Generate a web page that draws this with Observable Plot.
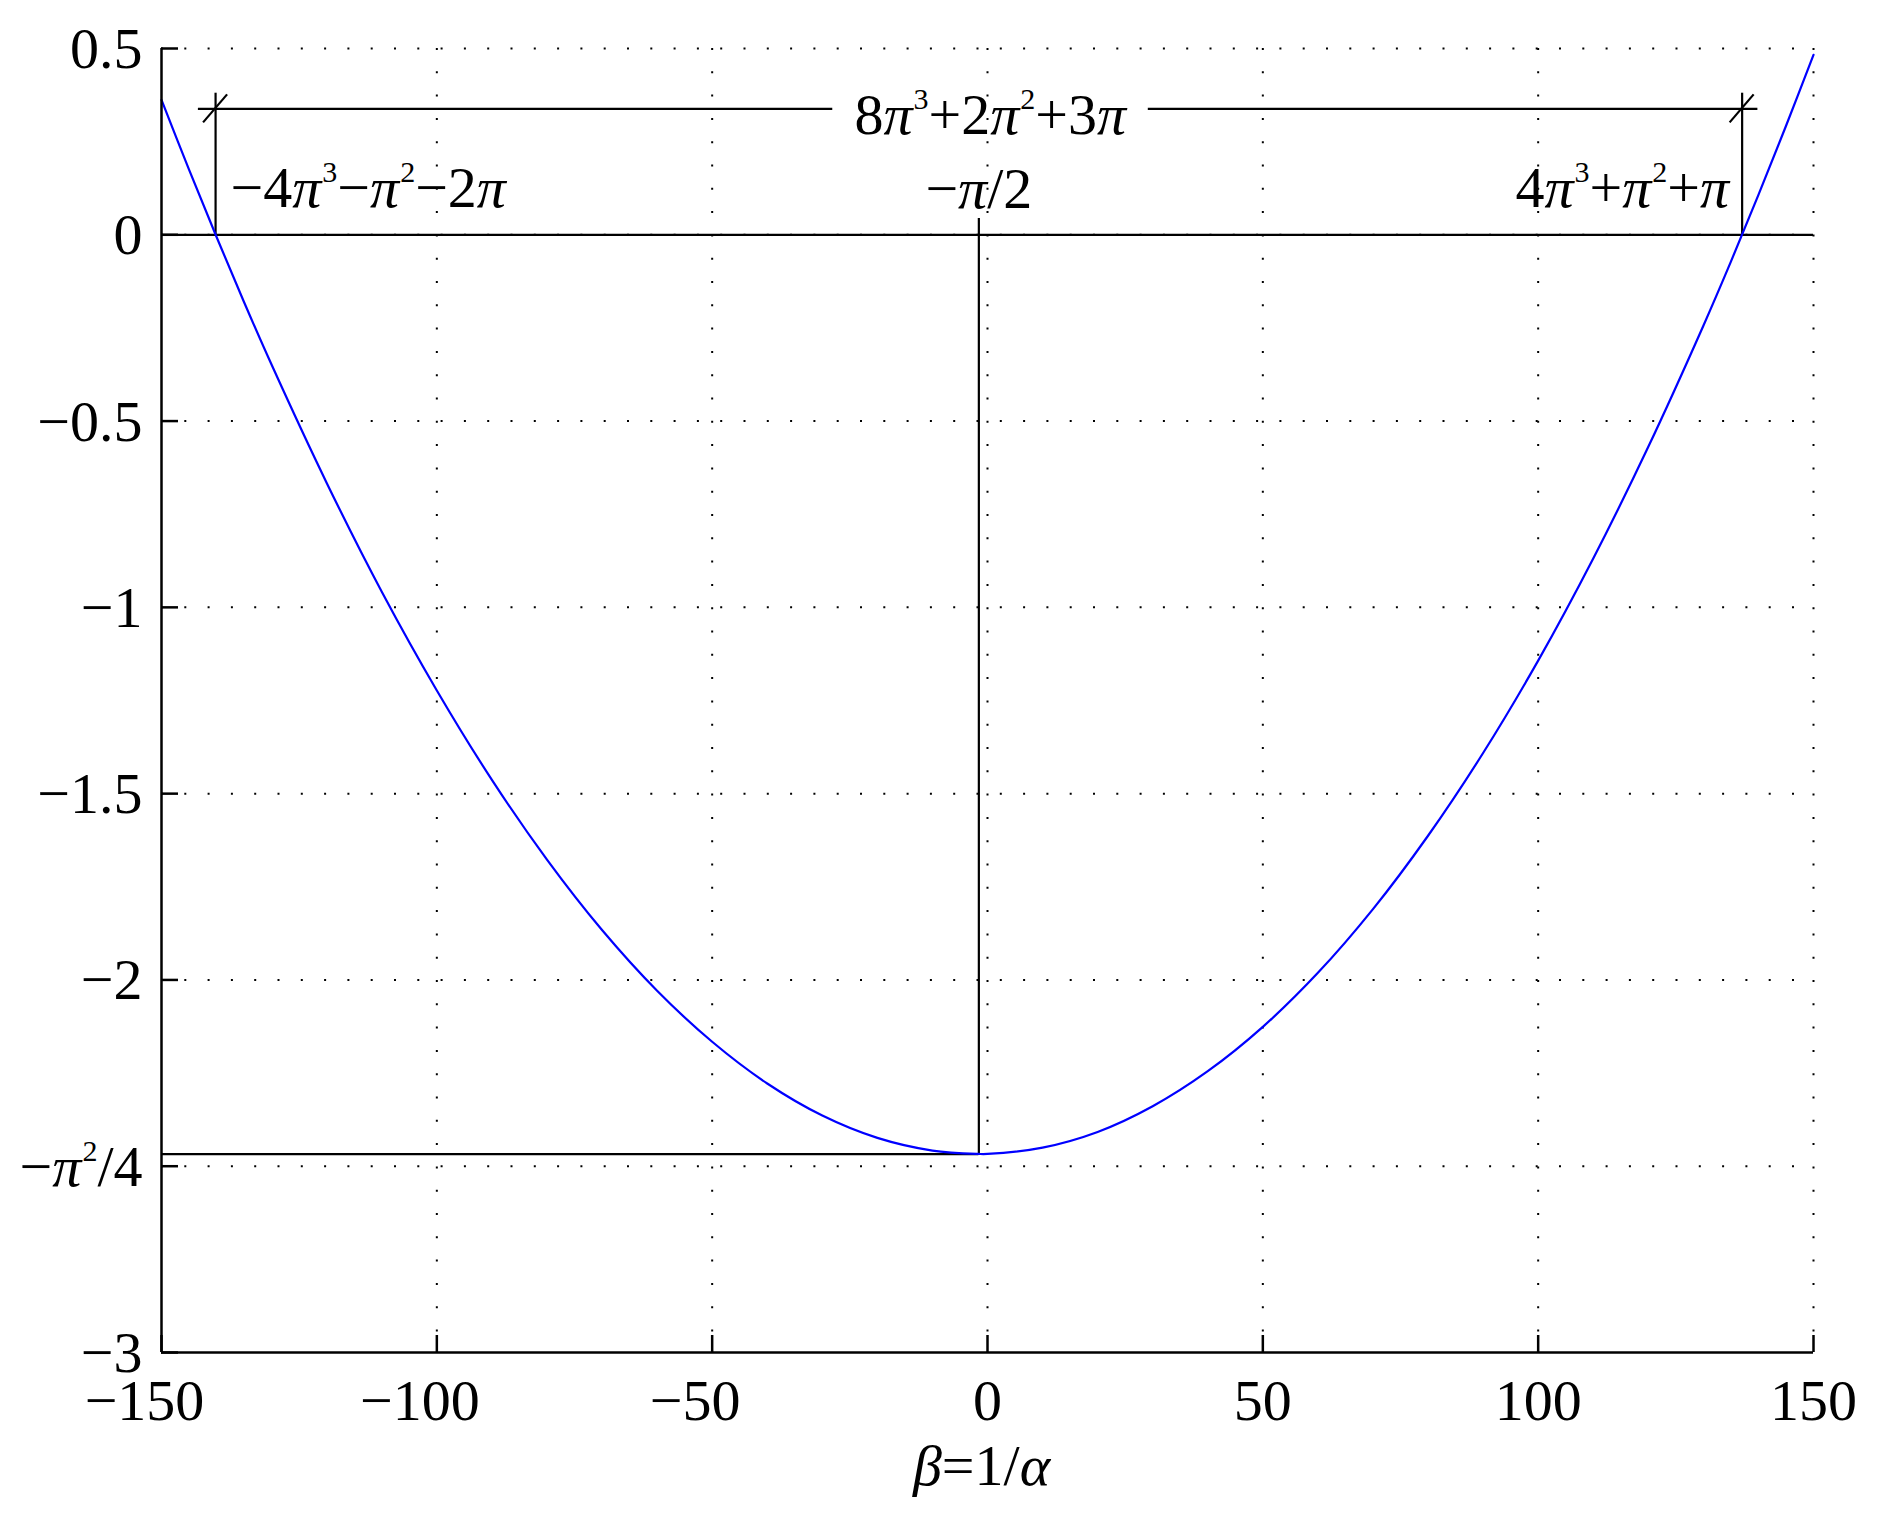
<!DOCTYPE html>
<html>
<head>
<meta charset="utf-8">
<script src="https://cdn.jsdelivr.net/npm/d3@7"></script>
<script src="https://cdn.jsdelivr.net/npm/@observablehq/plot@0.6"></script>
<style>
  html, body { margin: 0; padding: 0; background: #ffffff; }
  #chart { width: 1881px; height: 1515px; }
</style>
</head>
<body>
<div id="chart"></div>
<script>
// ---- data ----
const beta = [-150, -145, -140, -135, -130, -120, -110, -100, -90, -80, -70, -60, -50, -40, -30, -20, -10, -1.6, 0, 10, 20, 30, 40, 50, 60, 70, 80, 90, 100, 110, 120, 130, 135, 140, 145, 150];
const curveValues = [0.362, 0.175, -0.006, -0.181, -0.349, -0.666, -0.958, -1.223, -1.463, -1.677, -1.866, -2.029, -2.166, -2.278, -2.364, -2.424, -2.458, -2.467, -2.467, -2.450, -2.408, -2.339, -2.245, -2.126, -1.981, -1.810, -1.613, -1.391, -1.143, -0.869, -0.569, -0.244, -0.072, 0.107, 0.292, 0.483];

const xTicks = [-150, -100, -50, 0, 50, 100, 150];
const xTickLabels = ["−150", "−100", "−50", "0", "50", "100", "150"];
const yTicks = [0.5, 0, -0.5, -1, -1.5, -2, -2.5, -3];
const yTickLabels = ["0.5", "0", "−0.5", "−1", "−1.5", "−2", "−π²/4", "−3"];
const xLabel = "β=1/α";

// annotation values
const rootX = [-140.18, 137.04];
const rootLabels = ["−4π³−π²−2π", "4π³+π²+π"];
const vertexX = [-1.5708];
const vertexY = [-2.4674];
const vertexLabel = ["−π/2"];
const vertexLineTop = [0.044];
const dimTop = [0.38];
const spanY = [0.338];
const spanStart = [-143.3, 29.2];
const spanEnd = [-28.1, 139.9];
const spanLabel = ["8π³+2π²+3π"];
const spanLabelX = [0.5];

// ---- build ----
const W = 1881, H = 1515;
const mT = 48, mR = 68, mB = 163, mL = 161;
const plotW = W - mL - mR, plotH = H - mT - mB;
const FONT = "'Liberation Serif', 'Times New Roman', serif";
const FS = 58;
const SUP_FS = 30, SUP_SHIFT = 25;
const tickLen = 17;
const LW = 2.2;

const points = beta.map((b, i) => ({x: b, y: curveValues[i]}));
const spanSegs = spanStart.map((s, i) => ({x1: s, x2: spanEnd[i], y: spanY[0]}));
const xTickData = xTicks.map((v, i) => ({v, label: xTickLabels[i]}));
const xNeg = xTickData.filter(d => d.label.startsWith("−"));
const xPos = xTickData.filter(d => !d.label.startsWith("−"));

const slashMark = (index, scales) => {
  const g = d3.create("svg:g");
  for (const xv of rootX) {
    const cx = scales.x(xv), cy = scales.y(spanY[0]);
    g.append("line")
      .attr("x1", cx - 12).attr("y1", cy + 14)
      .attr("x2", cx + 12).attr("y2", cy - 14)
      .attr("stroke", "black").attr("stroke-width", LW);
  }
  return g.node();
};

const chart = Plot.plot({
  width: W,
  height: H,
  marginTop: mT, marginRight: mR, marginBottom: mB, marginLeft: mL,
  style: {background: "#ffffff", fontFamily: FONT, color: "black"},
  x: {domain: [-150, 150], axis: null},
  y: {domain: [-3, 0.5], axis: null},
  marks: [
    // dotted grid
    Plot.ruleX(xTicks.filter(d => d !== -150), {x: d => d, stroke: "black", strokeWidth: 2, strokeDasharray: "2,21.3"}),
    Plot.ruleY(yTicks.filter(d => d !== -3), {y: d => d, stroke: "black", strokeWidth: 2, strokeDasharray: "2,21.3"}),
    // zero line
    Plot.ruleY([0], {stroke: "black", strokeWidth: LW}),
    // -pi^2/4 level line and vertex line
    Plot.ruleY(vertexY, {y: d => d, x1: -150, x2: vertexX[0], stroke: "black", strokeWidth: LW}),
    Plot.ruleX(vertexX, {x: d => d, y1: vertexY[0], y2: vertexLineTop[0], stroke: "black", strokeWidth: LW}),
    // dimension lines
    Plot.ruleX(rootX, {x: d => d, y1: 0, y2: dimTop[0], stroke: "black", strokeWidth: LW}),
    Plot.ruleY(spanSegs, {y: "y", x1: "x1", x2: "x2", stroke: "black", strokeWidth: LW}),
    slashMark,
    // curve
    Plot.line(points, {x: "x", y: "y", stroke: "#0000ff", strokeWidth: 2.2, curve: "catmull-rom"}),
    // axes
    Plot.ruleX([-150], {x: d => d, stroke: "black", strokeWidth: 2.5}),
    Plot.ruleY([-3], {y: d => d, stroke: "black", strokeWidth: 2.5}),
    Plot.tickX(xTicks, {x: d => d, insetTop: plotH - tickLen, stroke: "black", strokeWidth: 2.5}),
    Plot.tickY(yTicks, {y: d => d, insetRight: plotW - tickLen, stroke: "black", strokeWidth: 2.5}),
    // tick labels (digits centred on the tick, minus sign hanging to the left)
    Plot.text(xPos, {x: "v", text: "label", frameAnchor: "bottom", lineAnchor: "middle", dy: 49, fontSize: FS, fill: "black"}),
    Plot.text(xNeg, {x: "v", text: "label", frameAnchor: "bottom", lineAnchor: "middle", dy: 49, dx: -17, fontSize: FS, fill: "black"}),
    Plot.text(yTicks, {y: d => d, text: (d, i) => yTickLabels[i], frameAnchor: "left", lineAnchor: "middle", textAnchor: "end", dx: -19, dy: 1, fontSize: FS, fill: "black"}),
    // axis label
    Plot.text([xLabel], {text: d => d, frameAnchor: "bottom", lineAnchor: "middle", dy: 114, dx: -6, fontSize: FS, fill: "black"}),
    // annotations
    Plot.text([0], {x: () => rootX[0], y: () => 0, text: () => rootLabels[0], textAnchor: "start", lineAnchor: "bottom", dx: 15, dy: -28, fontSize: FS, fill: "black"}),
    Plot.text([0], {x: () => rootX[1], y: () => 0, text: () => rootLabels[1], textAnchor: "end", lineAnchor: "bottom", dx: -13, dy: -28, fontSize: FS, fill: "black"}),
    Plot.text([0], {x: () => vertexX[0], y: () => 0, text: () => vertexLabel[0], textAnchor: "middle", lineAnchor: "bottom", dy: -27, fontSize: FS, fill: "black"}),
    Plot.text([0], {x: () => spanLabelX[0], y: () => spanY[0], text: () => spanLabel[0], textAnchor: "middle", lineAnchor: "bottom", dy: 25, fontSize: FS, fill: "black"})
  ]
});

// italic Greek letters and raised superscripts (kept as real text)
const NS = "http://www.w3.org/2000/svg";
const SUP = {"²": "2", "³": "3"};
chart.querySelectorAll("text").forEach(t => {
  const s = t.textContent;
  if (!/[πβα²³]/.test(s)) return;
  while (t.firstChild) t.removeChild(t.firstChild);
  const tokens = s.match(/[πβα]|[²³]|[^πβα²³]+/g);
  let raised = false;
  for (const tok of tokens) {
    const ts = document.createElementNS(NS, "tspan");
    if (SUP[tok]) {
      ts.textContent = SUP[tok];
      ts.setAttribute("font-size", SUP_FS);
      ts.setAttribute("dy", -SUP_SHIFT);
      ts.setAttribute("dx", 1);
      raised = true;
    } else {
      ts.textContent = tok;
      if (/[πβα]/.test(tok)) ts.setAttribute("font-style", "italic");
      if (raised) { ts.setAttribute("dy", SUP_SHIFT); raised = false; }
    }
    t.appendChild(ts);
  }
});

document.getElementById("chart").appendChild(chart);
</script>
</body>
</html>
